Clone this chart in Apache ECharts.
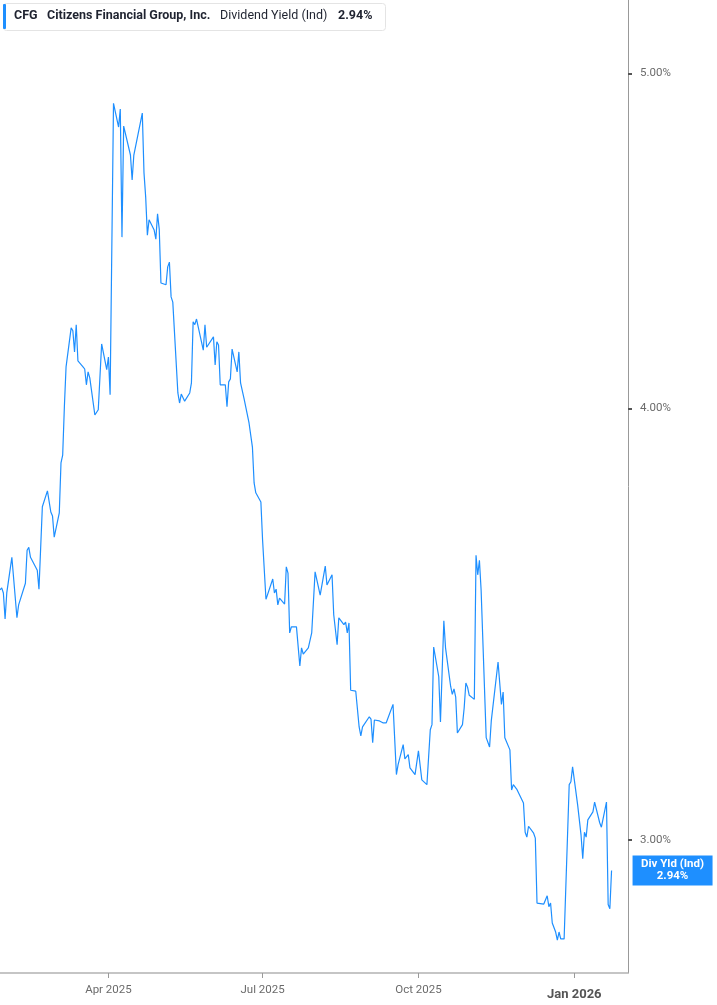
<!DOCTYPE html>
<html>
<head>
<meta charset="utf-8">
<script src="https://cdn.jsdelivr.net/npm/echarts@6/dist/echarts.min.js"></script>
<style>
html,body{margin:0;padding:0;background:#fff;}
#chart{width:717px;height:1005px;}
</style>
</head>
<body>
<div id="chart"></div>
<script>
const ticker = 'CFG';
const companyName = 'Citizens Financial Group, Inc.';
const metricName = 'Dividend Yield (Ind)';
const shortMetricName = 'Div Yld (Ind)';

const dates = [
'2025-01-27','2025-01-28','2025-01-29','2025-01-30','2025-01-31','2025-02-03','2025-02-06','2025-02-07','2025-02-11','2025-02-12',
'2025-02-13','2025-02-14','2025-02-18','2025-02-19','2025-02-21','2025-02-24','2025-02-25','2025-02-26','2025-02-27','2025-02-28',
'2025-03-03','2025-03-04','2025-03-05','2025-03-06','2025-03-07','2025-03-10','2025-03-11','2025-03-12','2025-03-13','2025-03-14',
'2025-03-17','2025-03-18','2025-03-19','2025-03-20','2025-03-21','2025-03-24','2025-03-25','2025-03-26','2025-03-28','2025-03-31',
'2025-04-01','2025-04-02','2025-04-04','2025-04-07','2025-04-08','2025-04-09','2025-04-10','2025-04-11','2025-04-14','2025-04-15',
'2025-04-16','2025-04-17','2025-04-21','2025-04-22','2025-04-23','2025-04-24','2025-04-25','2025-04-28','2025-04-29','2025-04-30',
'2025-05-01','2025-05-02','2025-05-05','2025-05-06','2025-05-07','2025-05-08','2025-05-09','2025-05-12','2025-05-13','2025-05-14',
'2025-05-16','2025-05-19','2025-05-20','2025-05-21','2025-05-22','2025-05-23','2025-05-27','2025-05-28','2025-05-29','2025-05-30',
'2025-06-02','2025-06-03','2025-06-04','2025-06-05','2025-06-06','2025-06-09','2025-06-10','2025-06-11','2025-06-12','2025-06-13',
'2025-06-16','2025-06-17','2025-06-18','2025-06-20','2025-06-23','2025-06-25','2025-06-26','2025-06-27','2025-06-30','2025-07-01',
'2025-07-03','2025-07-07','2025-07-08','2025-07-09','2025-07-10','2025-07-11','2025-07-14','2025-07-15','2025-07-16','2025-07-17',
'2025-07-18','2025-07-21','2025-07-23','2025-07-24','2025-07-25','2025-07-28','2025-07-30','2025-08-01','2025-08-04','2025-08-07',
'2025-08-08','2025-08-11','2025-08-12','2025-08-14','2025-08-15','2025-08-18','2025-08-19','2025-08-20','2025-08-21','2025-08-22',
'2025-08-25','2025-08-27','2025-08-28','2025-08-29','2025-09-02','2025-09-03','2025-09-04','2025-09-05','2025-09-08','2025-09-10',
'2025-09-12','2025-09-16','2025-09-18','2025-09-19','2025-09-22','2025-09-23','2025-09-24','2025-09-25','2025-09-26','2025-09-29',
'2025-10-01','2025-10-03','2025-10-06','2025-10-08','2025-10-09','2025-10-10','2025-10-13','2025-10-14','2025-10-15','2025-10-16',
'2025-10-17','2025-10-20','2025-10-21','2025-10-22','2025-10-23','2025-10-24','2025-10-27','2025-10-28','2025-10-29','2025-10-30',
'2025-10-31','2025-11-03','2025-11-04','2025-11-05','2025-11-06','2025-11-07','2025-11-10','2025-11-11','2025-11-12','2025-11-13',
'2025-11-14','2025-11-17','2025-11-19','2025-11-20','2025-11-21','2025-11-24','2025-11-25','2025-11-26','2025-11-28','2025-12-02',
'2025-12-03','2025-12-04','2025-12-05','2025-12-08','2025-12-09','2025-12-10','2025-12-11','2025-12-14','2025-12-16','2025-12-17',
'2025-12-18','2025-12-19','2025-12-21','2025-12-22','2025-12-23','2025-12-24','2025-12-26','2025-12-29','2025-12-30','2025-12-31',
'2026-01-03','2026-01-05','2026-01-06','2026-01-07','2026-01-08','2026-01-09','2026-01-12','2026-01-13','2026-01-14','2026-01-16',
'2026-01-17','2026-01-20','2026-01-21','2026-01-22','2026-01-23'
];

const yieldPct = [
3.544,3.549,3.537,3.476,3.537,3.622,3.479,3.509,3.560,3.639,
3.646,3.622,3.591,3.546,3.746,3.786,3.783,3.733,3.723,3.671,
3.731,3.857,3.877,4.004,4.112,4.220,4.212,4.153,4.229,4.128,
4.112,4.106,4.063,4.098,4.082,3.982,3.977,3.996,4.175,4.104,
4.139,4.036,4.901,4.824,4.882,4.483,4.827,4.824,4.735,4.657,
4.735,4.741,4.869,4.679,4.604,4.489,4.535,4.504,4.477,4.553,
4.507,4.348,4.343,4.395,4.409,4.308,4.293,4.041,4.014,4.038,
4.019,4.041,4.068,4.237,4.229,4.245,4.158,4.229,4.166,4.166,
4.195,4.117,4.181,4.172,4.063,4.063,4.004,4.071,4.079,4.161,
4.098,4.153,4.068,4.027,3.961,3.898,3.806,3.781,3.758,3.664,
3.522,3.570,3.537,3.546,3.509,3.525,3.511,3.599,3.584,3.444,
3.458,3.458,3.369,3.410,3.396,3.410,3.444,3.587,3.532,3.601,
3.556,3.580,3.486,3.417,3.479,3.463,3.469,3.444,3.467,3.315,
3.313,3.235,3.216,3.235,3.257,3.252,3.201,3.250,3.248,3.244,
3.244,3.284,3.134,3.155,3.197,3.167,3.163,3.176,3.148,3.134,
3.184,3.123,3.113,3.229,3.240,3.412,3.345,3.246,3.248,3.472,
3.410,3.324,3.306,3.318,3.300,3.222,3.240,3.276,3.331,3.322,
3.304,3.295,3.627,3.580,3.615,3.544,3.212,3.216,3.192,3.248,
3.250,3.378,3.284,3.311,3.212,3.186,3.102,3.113,3.104,3.075,
3.016,3.006,3.028,3.014,3.004,2.877,2.879,2.875,2.891,2.870,
2.877,2.839,2.822,2.807,2.822,2.809,2.809,3.113,3.119,3.150,
3.071,3.010,2.963,3.016,3.006,3.041,3.057,3.077,3.075,3.035,
3.026,3.077,2.874,2.866,2.94
];

const yTicks = [3, 4, 5];
const xTickDates = ['2025-04-01', '2025-07-01', '2025-10-01', '2026-01-01'];
const xTickLabels = ['Apr 2025', 'Jul 2025', 'Oct 2025', 'Jan 2026'];

const yMin = 2.746, yMax = 5.25;
const xMin = '2025-01-27', xMax = '2026-02-01', xMaxExtraHours = 17;

const lineColor = '#1e8fff';
const FONT = 'Roboto';

function ts(s) { return Date.UTC(+s.slice(0, 4), +s.slice(5, 7) - 1, +s.slice(8, 10)); }

const lastVal = yieldPct[yieldPct.length - 1];
const seriesData = dates.map((d, i) => [ts(d), Math.log10(yieldPct[i]), yieldPct[i]]);
const xTickTs = xTickDates.map(ts);
const yTickLog = yTicks.map(v => Math.log10(v));

const chart = echarts.init(document.getElementById('chart'), null, {renderer: 'canvas'});

chart.setOption({
  animation: false,
  backgroundColor: '#fff',
  grid: {left: 0, right: 89, top: 0, bottom: 32, containLabel: false},
  xAxis: {
    type: 'value',
    min: ts(xMin),
    max: ts(xMax) + xMaxExtraHours * 3600000,
    axisLine: {show: true, lineStyle: {color: '#b3b3b3', width: 1.5}},
    axisTick: {show: true, customValues: xTickTs, length: 5, lineStyle: {color: '#999'}},
    splitLine: {show: false},
    axisLabel: {
      customValues: xTickTs,
      margin: 11,
      formatter: function (v) {
        const i = xTickTs.indexOf(v);
        const lab = i >= 0 ? xTickLabels[i] : '';
        return lab.indexOf('Jan') === 0 ? '{b|' + lab + '}' : '{n|' + lab + '}';
      },
      rich: {
        n: {color: '#6b6b6b', fontSize: 11.5, fontFamily: FONT},
        b: {color: '#555', fontSize: 13, fontWeight: 'bold', fontFamily: FONT, padding: [4, 0, 0, 0]}
      }
    }
  },
  yAxis: {
    type: 'value',
    position: 'right',
    min: Math.log10(yMin),
    max: Math.log10(yMax),
    axisLine: {show: true, lineStyle: {color: '#999', width: 1}},
    axisTick: {show: true, customValues: yTickLog, length: 4, lineStyle: {color: '#555', width: 2}},
    splitLine: {show: false},
    axisLabel: {
      customValues: yTickLog,
      margin: 12,
      color: '#6b6b6b',
      fontSize: 11.5,
      fontFamily: FONT,
      formatter: function (v) { return Math.pow(10, v).toFixed(2) + '%'; }
    }
  },
  series: [{
    type: 'line',
    data: seriesData,
    encode: {x: 0, y: 1},
    showSymbol: false,
    symbol: 'none',
    lineStyle: {color: lineColor, width: 1.2},
    endLabel: {
      show: true,
      distance: 21,
      align: 'left',
      formatter: function (p) { return '{a|' + shortMetricName + '}\n{a|' + p.value[2].toFixed(2) + '%}'; },
      backgroundColor: lineColor,
      padding: [2, 0, 3, 0],
      rich: {
        a: {width: 80, align: 'center', color: '#fff', fontSize: 11.5, fontWeight: 'bold', fontFamily: FONT, lineHeight: 12.5}
      }
    }
  }],
  graphic: [
    {type: 'rect', left: 3, top: 3, shape: {width: 382, height: 27, r: 3}, style: {fill: '#fff', stroke: '#e4e4e4', lineWidth: 1}, z: 10},
    {type: 'rect', left: 3, top: 4, shape: {width: 3, height: 25, r: 1}, style: {fill: lineColor}, z: 11},
    {type: 'text', left: 14, top: 9, style: {text: ticker, fill: '#1f2330', font: 'bold 12.5px ' + FONT}, z: 11},
    {type: 'text', left: 47, top: 9, style: {text: companyName, fill: '#1f2330', font: 'bold 12.5px ' + FONT}, z: 11},
    {type: 'text', left: 220, top: 9, style: {text: metricName, fill: '#1f2330', font: '12.5px ' + FONT}, z: 11},
    {type: 'text', left: 338, top: 9, style: {text: lastVal.toFixed(2) + '%', fill: '#1f2330', font: 'bold 12.5px ' + FONT}, z: 11}
  ]
});
</script>
</body>
</html>
